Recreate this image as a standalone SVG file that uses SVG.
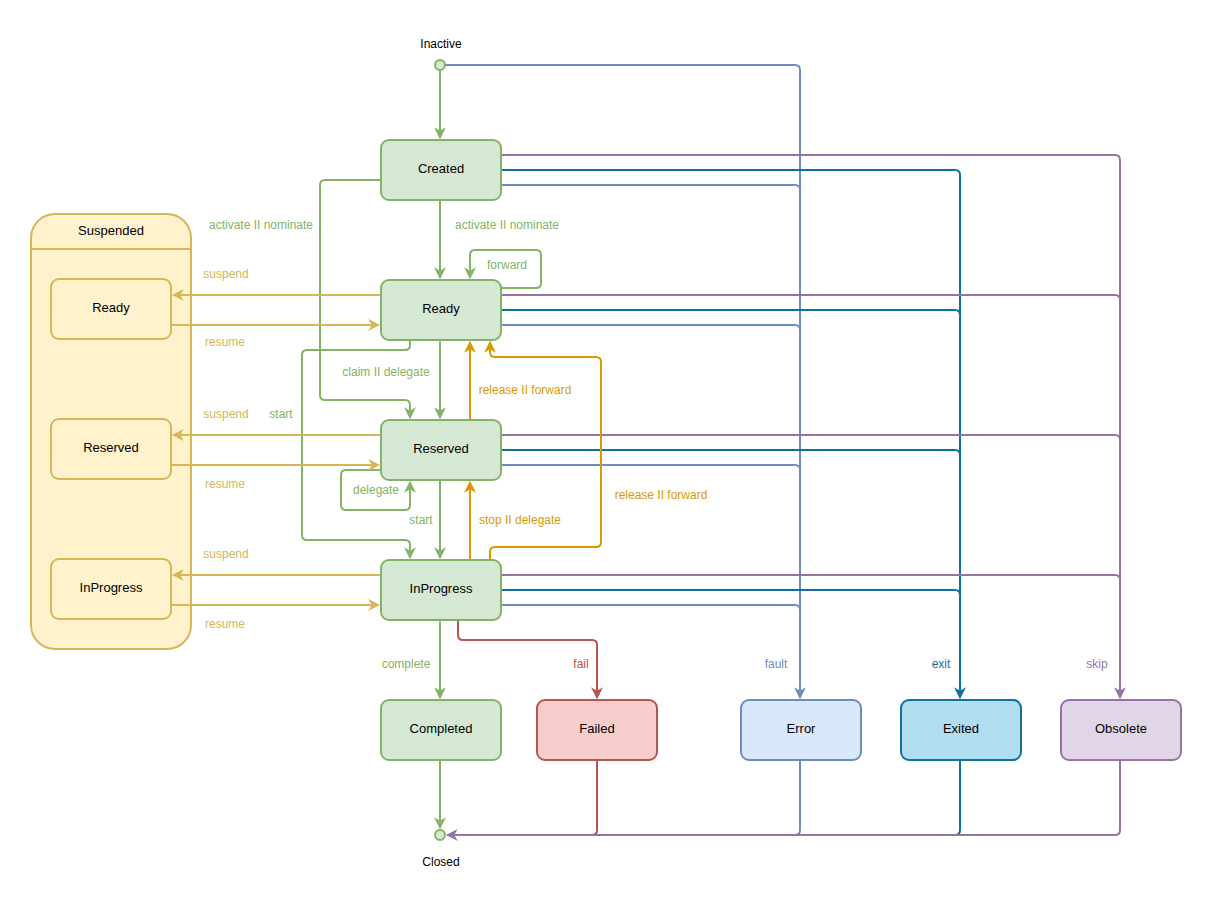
<svg xmlns="http://www.w3.org/2000/svg" width="1212" height="908" viewBox="0 0 1212 908">
<style>
text{font-family:"Liberation Sans",Arial,sans-serif}
.n{font-size:13px;fill:#000;text-anchor:middle;dominant-baseline:middle}
.l{font-size:12px;text-anchor:middle;dominant-baseline:middle}
.e{fill:none;stroke-width:2;stroke-linejoin:round}
.g{stroke:#82B366}.gt{fill:#82B366}
.o{stroke:#D79B00}.ot{fill:#D79B00}
.y{stroke:#D6B656}.yt{fill:#D6B656}
.p{stroke:#9673A6}.pt{fill:#9673A6}
.b{stroke:#10739E}.bt{fill:#10739E}
.lb{stroke:#6C8EBF}.lbt{fill:#6C8EBF}
.r{stroke:#B85450}.rt{fill:#B85450}
.gb{fill:#D5E8D4;stroke:#82B366;stroke-width:2}
</style>
<defs>
<marker id="mg" viewBox="0 0 10 10" refX="9" refY="5" markerWidth="6" markerHeight="6" orient="auto"><path d="M0,0L10,5L0,10L3,5z" fill="#82B366"/></marker>
<marker id="mo" viewBox="0 0 10 10" refX="9" refY="5" markerWidth="6" markerHeight="6" orient="auto"><path d="M0,0L10,5L0,10L3,5z" fill="#D79B00"/></marker>
<marker id="my" viewBox="0 0 10 10" refX="9" refY="5" markerWidth="6" markerHeight="6" orient="auto"><path d="M0,0L10,5L0,10L3,5z" fill="#D6B656"/></marker>
<marker id="mp" viewBox="0 0 10 10" refX="9" refY="5" markerWidth="6" markerHeight="6" orient="auto"><path d="M0,0L10,5L0,10L3,5z" fill="#9673A6"/></marker>
<marker id="mb" viewBox="0 0 10 10" refX="9" refY="5" markerWidth="6" markerHeight="6" orient="auto"><path d="M0,0L10,5L0,10L3,5z" fill="#10739E"/></marker>
<marker id="mlb" viewBox="0 0 10 10" refX="9" refY="5" markerWidth="6" markerHeight="6" orient="auto"><path d="M0,0L10,5L0,10L3,5z" fill="#6C8EBF"/></marker>
<marker id="mr" viewBox="0 0 10 10" refX="9" refY="5" markerWidth="6" markerHeight="6" orient="auto"><path d="M0,0L10,5L0,10L3,5z" fill="#B85450"/></marker>
</defs>
<rect width="1212" height="908" fill="#fff"/>
<g id="suspended">
<rect x="31" y="214" width="160" height="435" rx="24" fill="#FFF2CC" stroke="#D6B656" stroke-width="2"/>
<line x1="31" y1="249" x2="191" y2="249" stroke="#D6B656" stroke-width="2"/>
<text class="n" x="111" y="232">Suspended</text>
</g>
<g id="s-ready"><rect x="51" y="279" width="120" height="60" rx="8" fill="#FFF2CC" stroke="#D6B656" stroke-width="2"/><text class="n" x="111" y="309">Ready</text></g>
<g id="s-reserved"><rect x="51" y="419" width="120" height="60" rx="8" fill="#FFF2CC" stroke="#D6B656" stroke-width="2"/><text class="n" x="111" y="449">Reserved</text></g>
<g id="s-inprogress"><rect x="51" y="559" width="120" height="60" rx="8" fill="#FFF2CC" stroke="#D6B656" stroke-width="2"/><text class="n" x="111" y="589">InProgress</text></g>
<g id="connectors">
<path class="e lb" d="M445,65H795Q800,65 800,70V698" marker-end="url(#mlb)"/>
<path class="e g" d="M440,70V138" marker-end="url(#mg)"/>
<path class="e p" d="M501,155H1115Q1120,155 1120,160V698" marker-end="url(#mp)"/>
<path class="e b" d="M501,170H955Q960,170 960,175V698" marker-end="url(#mb)"/>
<path class="e lb" d="M501,185H795Q800,185 800,190V698"/>
<path class="e p" d="M501,295H1115Q1120,295 1120,300"/>
<path class="e b" d="M501,310H955Q960,310 960,315"/>
<path class="e lb" d="M501,325H795Q800,325 800,330"/>
<path class="e p" d="M501,435H1115Q1120,435 1120,440"/>
<path class="e b" d="M501,450H955Q960,450 960,455"/>
<path class="e lb" d="M501,465H795Q800,465 800,470"/>
<path class="e p" d="M501,575H1115Q1120,575 1120,580"/>
<path class="e b" d="M501,590H955Q960,590 960,595"/>
<path class="e lb" d="M501,605H795Q800,605 800,610"/>
<path class="e g" d="M440,200V278" marker-end="url(#mg)"/>
<path class="e g" d="M381,180H325Q320,180 320,185V395Q320,400 325,400H405Q410,400 410,405V418" marker-end="url(#mg)"/>
<path class="e g" d="M501,288H536Q541,288 541,283V255Q541,250 536,250H475Q470,250 470,255V278" marker-end="url(#mg)"/>
<path class="e g" d="M440,340V418" marker-end="url(#mg)"/>
<path class="e g" d="M410,340V345Q410,350 405,350H307Q302,350 302,355V535Q302,540 307,540H405Q410,540 410,545V558" marker-end="url(#mg)"/>
<path class="e g" d="M381,470H346Q341,470 341,475V505Q341,510 346,510H405Q410,510 410,505V482" marker-end="url(#mg)"/>
<path class="e g" d="M440,480V558" marker-end="url(#mg)"/>
<path class="e o" d="M470,560V482" marker-end="url(#mo)"/>
<path class="e o" d="M470,420V342" marker-end="url(#mo)"/>
<path class="e o" d="M490,560V552Q490,547 495,547H596Q601,547 601,542V362Q601,357 596,357H495Q490,357 490,352V342" marker-end="url(#mo)"/>
<path class="e y" d="M381,295H173" marker-end="url(#my)"/>
<path class="e y" d="M171,325H379" marker-end="url(#my)"/>
<path class="e y" d="M381,435H173" marker-end="url(#my)"/>
<path class="e y" d="M171,465H379" marker-end="url(#my)"/>
<path class="e y" d="M381,575H173" marker-end="url(#my)"/>
<path class="e y" d="M171,605H379" marker-end="url(#my)"/>
<path class="e g" d="M440,620V698" marker-end="url(#mg)"/>
<path class="e r" d="M458,620V635Q458,640 463,640H592Q597,640 597,645V698" marker-end="url(#mr)"/>
<path class="e g" d="M440,760V828" marker-end="url(#mg)"/>
<path class="e r" d="M597,760V830Q597,835 592,835H560"/>
<path class="e lb" d="M800,760V830Q800,835 795,835H700"/>
<path class="e b" d="M960,760V830Q960,835 955,835H900"/>
<path class="e p" d="M1120,760V830Q1120,835 1115,835H447" marker-end="url(#mp)"/>
<g>
<text class="l gt" x="261" y="226">activate II nominate</text>
<text class="l gt" x="507" y="226">activate II nominate</text>
<text class="l gt" x="507" y="266">forward</text>
<text class="l gt" x="386" y="373">claim II delegate</text>
<text class="l gt" x="281" y="415">start</text>
<text class="l gt" x="376" y="491">delegate</text>
<text class="l gt" x="421" y="521">start</text>
<text class="l gt" x="406" y="665">complete</text>
<text class="l ot" x="525" y="391">release II forward</text>
<text class="l ot" x="520" y="521">stop II delegate</text>
<text class="l ot" x="661" y="496">release II forward</text>
<text class="l yt" x="226" y="275">suspend</text>
<text class="l yt" x="225" y="343">resume</text>
<text class="l yt" x="226" y="415">suspend</text>
<text class="l yt" x="225" y="485">resume</text>
<text class="l yt" x="226" y="555">suspend</text>
<text class="l yt" x="225" y="625">resume</text>
<text class="l rt" x="581" y="665">fail</text>
<text class="l lbt" x="776" y="665">fault</text>
<text class="l bt" x="941" y="665">exit</text>
<text class="l pt" x="1097" y="665">skip</text>
</g>
</g>
<g id="inactive"><circle cx="440" cy="65" r="5" fill="#D5E8D4" stroke="#82B366" stroke-width="2"/><text class="n" x="441" y="45" style="font-size:12px">Inactive</text></g>
<g id="closed"><circle cx="440" cy="835" r="5" fill="#D5E8D4" stroke="#82B366" stroke-width="2"/><text class="n" x="441" y="863" style="font-size:12px">Closed</text></g>
<g id="created"><rect class="gb" x="381" y="140" width="120" height="60" rx="8"/><text class="n" x="441" y="170">Created</text></g>
<g id="ready"><rect class="gb" x="381" y="280" width="120" height="60" rx="8"/><text class="n" x="441" y="310">Ready</text></g>
<g id="reserved"><rect class="gb" x="381" y="420" width="120" height="60" rx="8"/><text class="n" x="441" y="450">Reserved</text></g>
<g id="inprogress"><rect class="gb" x="381" y="560" width="120" height="60" rx="8"/><text class="n" x="441" y="590">InProgress</text></g>
<g id="completed"><rect class="gb" x="381" y="700" width="120" height="60" rx="8"/><text class="n" x="441" y="730">Completed</text></g>
<g id="failed"><rect x="537" y="700" width="120" height="60" rx="8" fill="#F8CECC" stroke="#B85450" stroke-width="2"/><text class="n" x="597" y="730">Failed</text></g>
<g id="error"><rect x="741" y="700" width="120" height="60" rx="8" fill="#DAE8FC" stroke="#6C8EBF" stroke-width="2"/><text class="n" x="801" y="730">Error</text></g>
<g id="exited"><rect x="901" y="700" width="120" height="60" rx="8" fill="#B1DDF0" stroke="#10739E" stroke-width="2"/><text class="n" x="961" y="730">Exited</text></g>
<g id="obsolete"><rect x="1061" y="700" width="120" height="60" rx="8" fill="#E1D5E7" stroke="#9673A6" stroke-width="2"/><text class="n" x="1121" y="730">Obsolete</text></g>
</svg>
